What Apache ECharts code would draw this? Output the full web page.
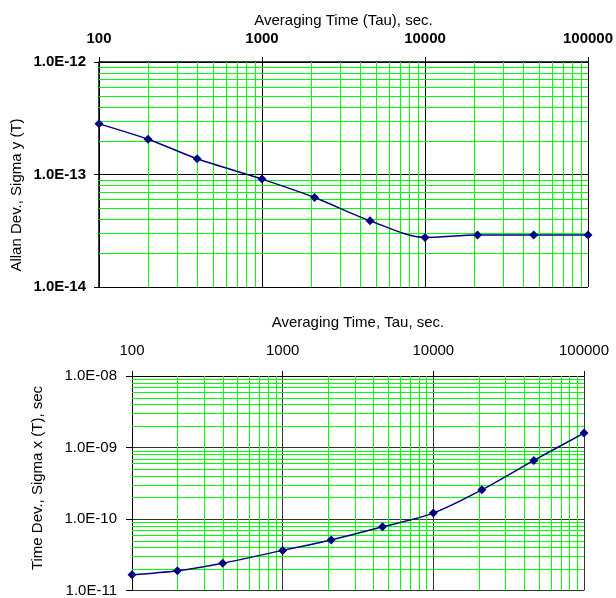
<!DOCTYPE html>
<html>
<head>
<meta charset="utf-8">
<script src="https://cdn.jsdelivr.net/npm/echarts@6/dist/echarts.min.js"></script>
<style>
html,body{margin:0;padding:0;background:#fff;}
#chart{width:616px;height:598px;}
</style>
</head>
<body>
<div id="chart"></div>
<script>
// ---- data ----
var tau = [100, 200, 400, 1000, 2100, 4600, 10000, 21000, 46500, 100000];
var allanDev = [2.82e-13, 2.06e-13, 1.38e-13, 9.1e-14, 6.25e-14, 3.88e-14, 2.76e-14, 2.90e-14, 2.90e-14, 2.90e-14];
var timeDev = [1.66e-11, 1.89e-11, 2.41e-11, 3.64e-11, 5.09e-11, 7.78e-11, 1.21e-10, 2.56e-10, 6.6e-10, 1.59e-9];

var xTickLabels = ['100', '1000', '10000', '100000'];            // 1e2 .. 1e5
var topYTickLabels = ['1.0E-14', '1.0E-13', '1.0E-12'];          // 1e-14 .. 1e-12
var botYTickLabels = ['1.0E-11', '1.0E-10', '1.0E-09', '1.0E-08']; // 1e-11 .. 1e-8

var topTitle = 'Averaging Time (Tau), sec.';
var botTitle = 'Averaging Time, Tau, sec.';
var topYName = 'Allan Dev., Sigma y (T)';
var botYName = 'Time Dev., Sigma x (T), sec';

// ---- helpers ----
var FONT = 'Liberation Sans, Arial, Helvetica, sans-serif';
var GREEN = '#00ff00';
function exp10(v){ return Math.round(Math.log10(v)); }
function minorValues(lo, hi){
  var out = [];
  for (var e = lo; e < hi; e++) {
    for (var m = 2; m <= 9; m++) out.push(m * Math.pow(10, e));
  }
  return out;
}
// minor grid lines drawn through the axis scales (custom series)
function gridSeries(idx, xLo, xHi, yLo, yHi){
  var xMin = Math.pow(10, xLo), yMin = Math.pow(10, yLo);
  var d = [];
  minorValues(xLo, xHi).forEach(function(v){ d.push([v, yMin, 0]); });
  minorValues(yLo, yHi).forEach(function(v){ d.push([xMin, v, 1]); });
  return {
    type: 'custom', xAxisIndex: idx, yAxisIndex: idx, z: 1, silent: true, animation: false,
    clip: false,
    encode: {x: 0, y: 1},
    data: d,
    renderItem: function(params, api){
      var cs = params.coordSys;
      var p = api.coord([api.value(0), api.value(1)]);
      var shape;
      if (api.value(2) === 0) {
        var x = Math.round(p[0]) + 0.5;
        shape = {x1: x, y1: cs.y, x2: x, y2: cs.y + cs.height};
      } else {
        var y = Math.round(p[1]) + 0.5;
        shape = {x1: cs.x, y1: y, x2: cs.x + cs.width, y2: y};
      }
      return {type: 'line', shape: shape, style: {stroke: GREEN, lineWidth: 1}};
    }
  };
}
function dataSeries(idx, vals){
  return {
    type: 'line', xAxisIndex: idx, yAxisIndex: idx, z: 5,
    data: tau.map(function(t, i){ return [t, vals[i]]; }),
    smooth: 0.3,
    symbol: 'diamond', symbolSize: 9,
    itemStyle: {color: '#000080'},
    lineStyle: {color: '#000080', width: 1.5},
    animation: false
  };
}

var chart = echarts.init(document.getElementById('chart'), null, {renderer: 'canvas'});
var option = {
  backgroundColor: '#ffffff',
  animation: false,
  grid: [
    {left: 99, right: 24, top: 62, height: 225},
    {left: 132, right: 32, top: 376, height: 218}
  ],
  xAxis: [
    {
      type: 'log', logBase: 10, gridIndex: 0, position: 'top', min: 100, max: 100000,
      name: topTitle, nameLocation: 'middle', nameGap: 34,
      nameTextStyle: {fontFamily: FONT, fontSize: 15, color: '#000'},
      axisLine: {show: true, lineStyle: {color: '#000', width: 1.5}},
      axisTick: {show: true, length: 5, lineStyle: {color: '#000'}},
      axisLabel: {fontFamily: FONT, fontSize: 15, fontWeight: 'bold', color: '#000', margin: 16,
        formatter: function(v){ return xTickLabels[exp10(v) - 2]; }},
      splitLine: {show: true, lineStyle: {color: '#000', width: 1}},
      minorTick: {show: false}, minorSplitLine: {show: false}
    },
    {
      type: 'log', logBase: 10, gridIndex: 1, position: 'top', min: 100, max: 100000,
      name: botTitle, nameLocation: 'middle', nameGap: 46,
      nameTextStyle: {fontFamily: FONT, fontSize: 15, color: '#000'},
      axisLine: {show: true, lineStyle: {color: '#000', width: 1}},
      axisTick: {show: true, length: 5, lineStyle: {color: '#000'}},
      axisLabel: {fontFamily: FONT, fontSize: 15, color: '#000', margin: 18,
        formatter: function(v){ return xTickLabels[exp10(v) - 2]; }},
      splitLine: {show: true, lineStyle: {color: '#333', width: 1}},
      minorTick: {show: false}, minorSplitLine: {show: false}
    }
  ],
  yAxis: [
    {
      type: 'log', logBase: 10, gridIndex: 0, min: 1e-14, max: 1e-12,
      axisLine: {show: true, lineStyle: {color: '#000', width: 1.5}},
      axisTick: {show: true, length: 5, lineStyle: {color: '#000'}},
      axisLabel: {fontFamily: FONT, fontSize: 15, fontWeight: 'bold', color: '#000', margin: 13,
        formatter: function(v){ return topYTickLabels[exp10(v) + 14]; }},
      splitLine: {show: true, lineStyle: {color: '#000', width: 1}},
      minorTick: {show: false}, minorSplitLine: {show: false}
    },
    {
      type: 'log', logBase: 10, gridIndex: 1, min: 1e-11, max: 1e-8,
      axisLine: {show: true, lineStyle: {color: '#000', width: 1}},
      axisTick: {show: true, length: 6, lineStyle: {color: '#000'}},
      axisLabel: {fontFamily: FONT, fontSize: 15, color: '#000', margin: 15,
        formatter: function(v){ return botYTickLabels[exp10(v) + 11]; }},
      splitLine: {show: true, lineStyle: {color: '#333', width: 1}},
      minorTick: {show: false}, minorSplitLine: {show: false}
    }
  ],
  graphic: [
    {type: 'text', x: 17, y: 195, rotation: Math.PI / 2, z: 10,
      style: {text: topYName, fontFamily: FONT, fontSize: 15, fill: '#000', align: 'center', verticalAlign: 'middle'}},
    {type: 'text', x: 38, y: 478, rotation: Math.PI / 2, z: 10,
      style: {text: botYName, fontFamily: FONT, fontSize: 15, fill: '#000', align: 'center', verticalAlign: 'middle'}}
  ],
  series: [
    gridSeries(0, 2, 5, -14, -12),
    gridSeries(1, 2, 5, -11, -8),
    dataSeries(0, allanDev),
    dataSeries(1, timeDev)
  ]
};
chart.setOption(option);
</script>
</body>
</html>
